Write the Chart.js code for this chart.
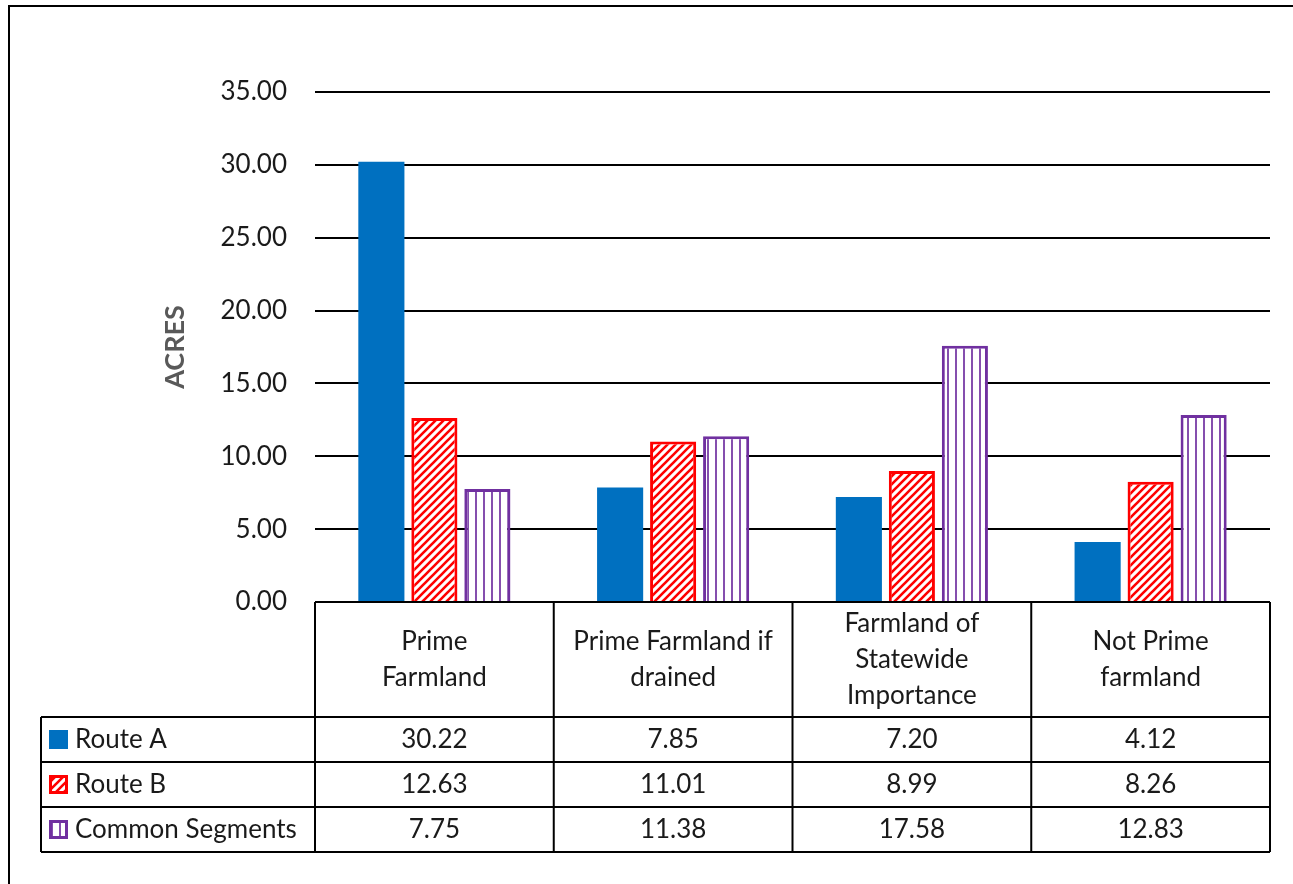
<!DOCTYPE html>
<html>
<head>
<meta charset="utf-8">
<script src="https://cdn.jsdelivr.net/npm/chart.js@4/dist/chart.umd.min.js"></script>
<style>
    html, body { margin: 0; padding: 0; background: #fff; }
    #wrap { width: 1293px; height: 884px; position: relative; }
</style>
</head>
<body>
<div id="wrap"><canvas id="acresChart"></canvas></div>
<script>
// data
const categories = [
    ['Prime', 'Farmland'],
    ['Prime Farmland if', 'drained'],
    ['Farmland of', 'Statewide', 'Importance'],
    ['Not Prime', 'farmland']
];
const seriesNames = ['Route A', 'Route B', 'Common Segments'];
const routeA = [30.22, 7.85, 7.20, 4.12];
const routeB = [12.63, 11.01, 8.99, 8.26];
const commonSegments = [7.75, 11.38, 17.58, 12.83];
const yMin = 0;
const yMax = 35;
const yStep = 5;

const FONT = 'Lato, "Open Sans", sans-serif';
const FONT_SIZE = 26;
const TEXT = '#1a1a1a';
const BLUE = '#0070C0';
const RED = '#FF0000';
const PURPLE = '#7030A0';

const canvas = document.getElementById('acresChart');
const ctx = canvas.getContext('2d');

function diagPattern(color) {
    const s = 8;
    const c = document.createElement('canvas');
    c.width = s; c.height = s;
    const g = c.getContext('2d');
    g.fillStyle = '#fff';
    g.fillRect(0, 0, s, s);
    g.strokeStyle = color;
    g.lineWidth = 2.6;
    g.beginPath();
    g.moveTo(-1, s + 1); g.lineTo(s + 1, -1);
    g.moveTo(-s / 2 - 1, s / 2 + 1); g.lineTo(s / 2 + 1, -s / 2 - 1);
    g.moveTo(s / 2 - 1, s * 1.5 + 1); g.lineTo(s * 1.5 + 1, s / 2 - 1);
    g.stroke();
    return ctx.createPattern(c, 'repeat');
}

function vertPattern(color) {
    const s = 8;
    const c = document.createElement('canvas');
    c.width = s; c.height = s;
    const g = c.getContext('2d');
    g.fillStyle = '#fff';
    g.fillRect(0, 0, s, s);
    g.fillStyle = color;
    g.globalAlpha = 0.85;
    g.fillRect(3, 0, 2, s);
    return ctx.createPattern(c, 'repeat');
}

const redHatch = diagPattern(RED);
const purpleHatch = vertPattern(PURPLE);

const seriesFill = [BLUE, redHatch, purpleHatch];
const seriesBorder = [BLUE, RED, PURPLE];
const seriesBorderWidth = [0, 3, 3];

// frame round the whole chart (top and left edges are visible)
const framePlugin = {
    id: 'frame',
    beforeDraw(chart) {
        const c = chart.ctx;
        c.save();
        c.strokeStyle = '#000';
        c.lineWidth = 2;
        c.beginPath();
        c.moveTo(9, 884);
        c.lineTo(9, 6);
        c.lineTo(1293, 6);
        c.stroke();
        c.restore();
    }
};

// data table under the plot, aligned on the category scale
const tablePlugin = {
    id: 'dataTable',
    afterDraw(chart) {
        const c = chart.ctx;
        const x = chart.scales.x;
        const area = chart.chartArea;
        const n = categories.length;
        const colW = (area.right - area.left) / n;
        const top = area.bottom;
        const headBottom = top + 115;
        const rowH = 45;
        const tableLeft = 41;
        const rows = [routeA, routeB, commonSegments];
        const bottom = headBottom + rowH * rows.length;

        c.save();
        c.strokeStyle = '#000';
        c.lineWidth = 2;
        c.beginPath();
        // top of header and column lines
        c.moveTo(area.left, top); c.lineTo(area.right, top);
        for (let i = 0; i <= n; i++) {
            const xx = area.left + i * colW;
            c.moveTo(xx, top); c.lineTo(xx, bottom);
        }
        // row lines
        for (let r = 0; r <= rows.length; r++) {
            const yy = headBottom + r * rowH;
            c.moveTo(tableLeft, yy); c.lineTo(area.right, yy);
        }
        c.moveTo(tableLeft, headBottom); c.lineTo(tableLeft, bottom);
        c.stroke();

        c.fillStyle = TEXT;
        c.font = FONT_SIZE + 'px ' + FONT;
        c.textAlign = 'center';
        c.textBaseline = 'middle';
        const lineH = 36;
        categories.forEach((lines, i) => {
            const cx = x.getPixelForValue(i);
            const cy = (top + headBottom) / 2;
            const y0 = cy - (lines.length - 1) * lineH / 2;
            lines.forEach((t, k) => c.fillText(t, cx, y0 + k * lineH));
        });

        rows.forEach((vals, r) => {
            const cy = headBottom + r * rowH + rowH / 2;
            vals.forEach((v, i) => {
                c.fillText(v.toFixed(2), x.getPixelForValue(i), cy);
            });
            // legend key
            const kx = 49, ks = 19;
            const ky = cy - ks / 2;
            if (r === 0) {
                c.fillStyle = BLUE;
                c.fillRect(kx, ky, ks, ks);
            } else {
                c.fillStyle = seriesFill[r];
                c.fillRect(kx, ky, ks, ks);
                c.strokeStyle = seriesBorder[r];
                c.lineWidth = 3;
                c.strokeRect(kx + 1.5, ky + 1.5, ks - 3, ks - 3);
            }
            c.fillStyle = TEXT;
            c.textAlign = 'left';
            c.fillText(seriesNames[r], 75, cy);
            c.textAlign = 'center';
        });
        c.restore();
    }
};

new Chart(ctx, {
    type: 'bar',
    data: {
        labels: categories,
        datasets: [routeA, routeB, commonSegments].map((vals, i) => ({
            label: seriesNames[i],
            data: vals,
            backgroundColor: seriesFill[i],
            borderColor: seriesBorder[i],
            borderWidth: seriesBorderWidth[i],
            categoryPercentage: 0.666,
            barPercentage: 0.87
        }))
    },
    options: {
        responsive: true,
        maintainAspectRatio: false,
        animation: false,
        layout: {
            padding: {left: 0, right: 23, top: 92, bottom: 0}
        },
        plugins: {
            legend: {display: false},
            tooltip: {enabled: false}
        },
        scales: {
            x: {
                ticks: {display: false},
                grid: {display: false},
                border: {display: false},
                afterFit(scale) { scale.height = 282; }
            },
            y: {
                min: yMin,
                max: yMax,
                ticks: {
                    stepSize: yStep,
                    padding: 28,
                    color: TEXT,
                    font: {family: FONT, size: FONT_SIZE},
                    callback: v => Number(v).toFixed(2)
                },
                grid: {color: '#000', lineWidth: 2, drawTicks: false},
                border: {display: false},
                title: {
                    display: true,
                    text: 'ACRES',
                    color: '#595959',
                    font: {family: FONT, size: 27, weight: 'bold'},
                    padding: {top: 159, bottom: 0}
                },
                afterFit(scale) { scale.width = 315; }
            }
        }
    },
    plugins: [framePlugin, tablePlugin]
});
</script>
</body>
</html>
